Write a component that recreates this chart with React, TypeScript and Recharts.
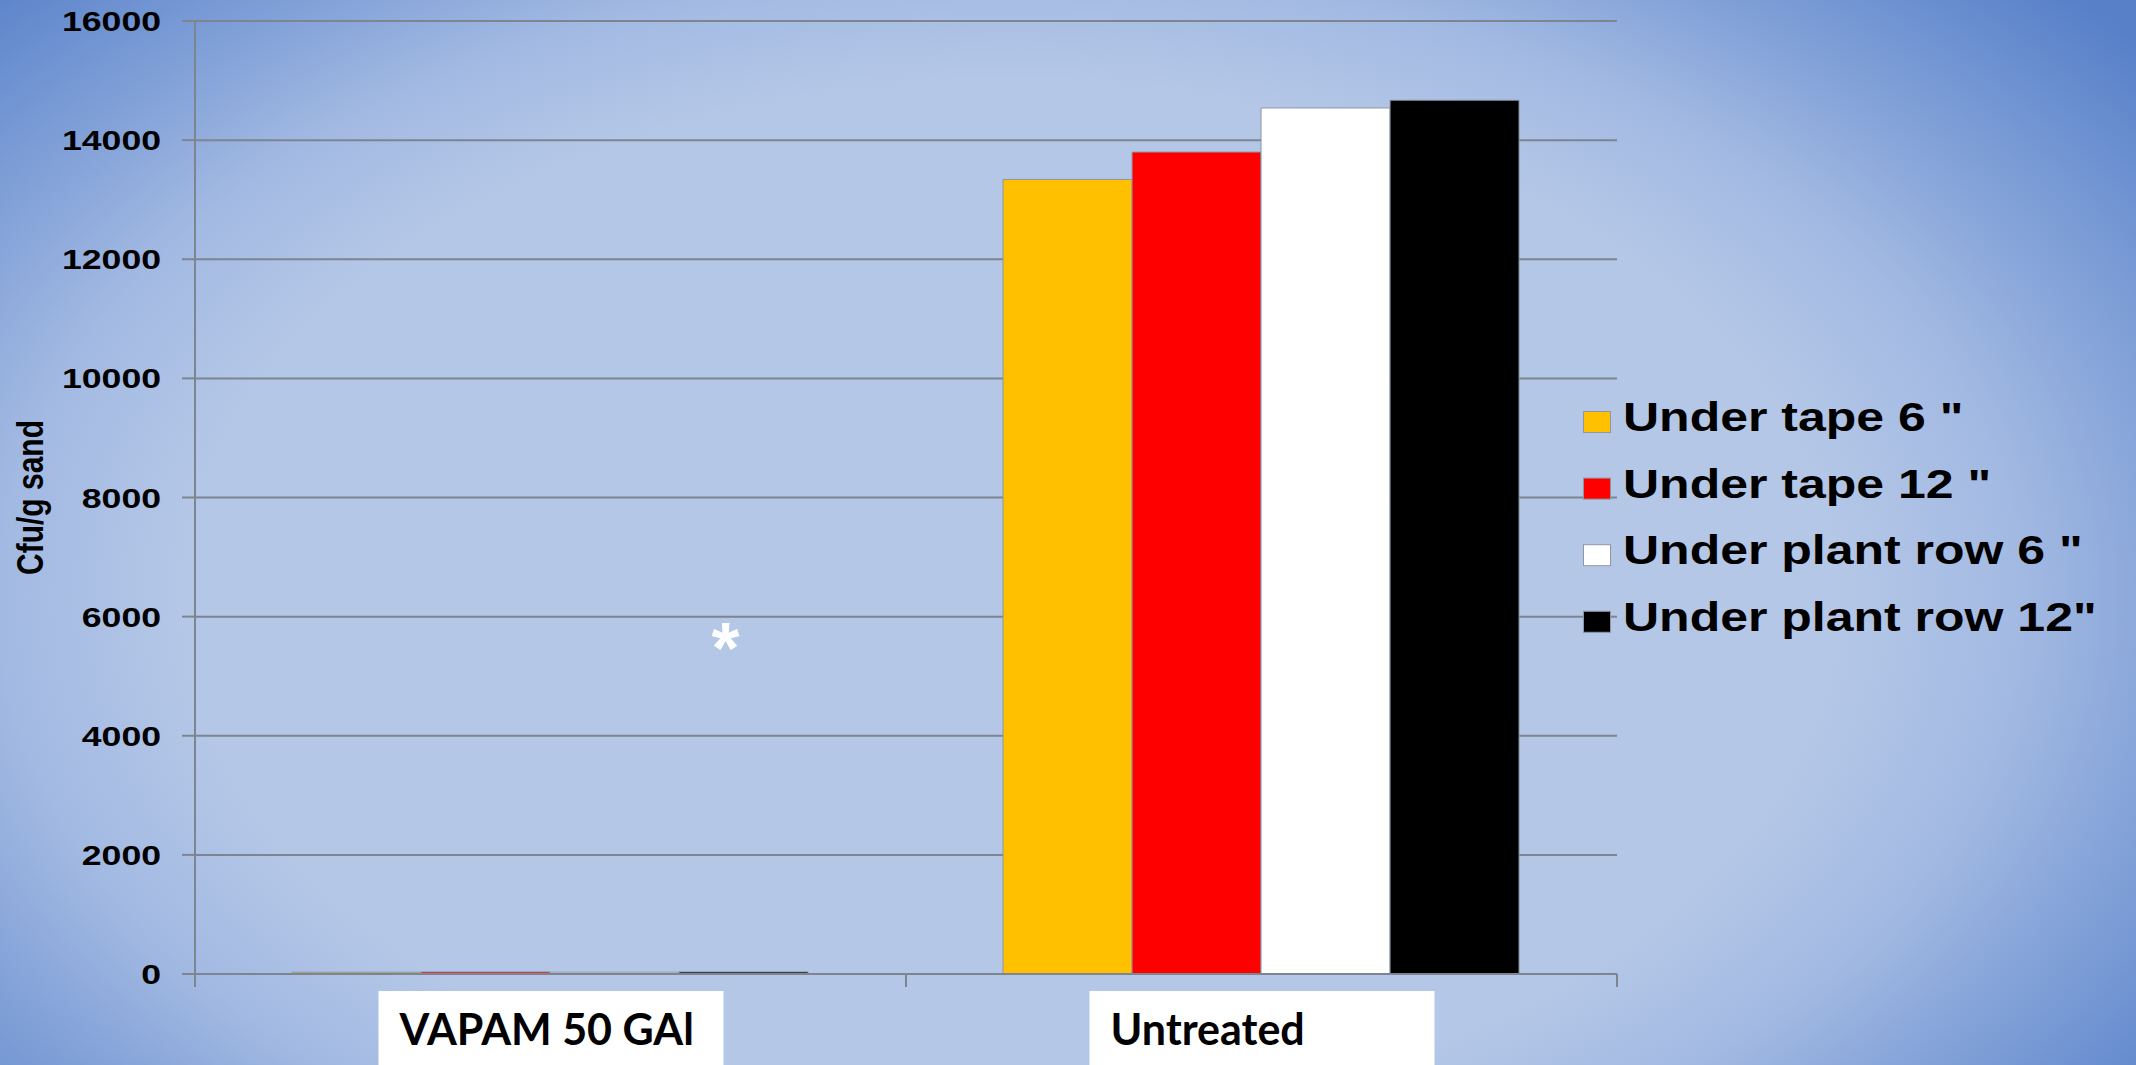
import React from 'react';
import { BarChart, Bar, XAxis, YAxis, CartesianGrid, Legend, ReferenceDot } from 'recharts';

const categories = ['VAPAM 50 GAl', 'Untreated'];
const underTape6 = [30, 13340];
const underTape12 = [35, 13800];
const underPlantRow6 = [30, 14540];
const underPlantRow12 = [35, 14670];
const seriesNames = ['Under tape 6 "', 'Under tape 12 "', 'Under plant row 6 "', 'Under plant row 12"'];
const seriesColors = ['#FFC000', '#FF0000', '#FFFFFF', '#000000'];
const yTicks = [0, 2000, 4000, 6000, 8000, 10000, 12000, 14000, 16000];
const yAxisTitle = 'Cfu/g sand';
const annotationText = '*';
const annotationValue = 5725;

const data = categories.map((c, i) => ({
  category: c,
  s0: underTape6[i],
  s1: underTape12[i],
  s2: underPlantRow6[i],
  s3: underPlantRow12[i],
}));

const W = 2136;
const H = 1065;
const GRID = '#7d8591';
const SANS = '"Liberation Sans", Arial, sans-serif';

const YTick = (props: any) => {
  const { x, y, payload } = props;
  return (
    <text
      transform={`translate(${x},${y + 10}) scale(1.25,1)`}
      textAnchor="end"
      fontFamily={SANS}
      fontWeight="bold"
      fontSize={28.5}
      fill="#000"
    >
      {payload.value}
    </text>
  );
};

const XTick = (props: any) => {
  const { x, y, payload } = props;
  const half =
    payload && typeof payload.offset === 'number' && payload.offset > 0
      ? payload.offset
      : props.width / (props.visibleTicksCount || 2) / 2;
  return (
    <g>
      <line x1={x - half} x2={x - half} y1={y} y2={y + 13} stroke={GRID} strokeWidth={2} />
      <line x1={x + half} x2={x + half} y1={y} y2={y + 13} stroke={GRID} strokeWidth={2} />
      <rect x={x - 172} y={y + 17} width={345} height={90} fill="#FFFFFF" />
      <text
        x={x - 151}
        y={y + 71}
        fontFamily="Lato, 'Open Sans', sans-serif"
        fontWeight="bold"
        fontSize={43}
        fill="#000"
      >
        {payload.value}
      </text>
    </g>
  );
};

const YLabel = (props: any) => {
  const vb = props.viewBox || { x: 0, y: 21, width: 195, height: 953 };
  const cx = vb.x + 30;
  const cy = vb.y + vb.height / 2;
  return (
    <text
      transform={`translate(${cx},${cy}) scale(1.25,1) rotate(-90)`}
      textAnchor="middle"
      dy="0.35em"
      fontFamily={SANS}
      fontWeight="bold"
      fontSize={30}
      fill="#000"
    >
      {yAxisTitle}
    </text>
  );
};

const LegendContent = (props: any) => {
  const payload = [...(props.payload || [])].sort(
    (a: any, b: any) => seriesNames.indexOf(a.value) - seriesNames.indexOf(b.value)
  );
  return (
    <svg width={560} height={280} style={{ display: 'block', overflow: 'visible' }}>
      {payload.map((e: any, i: number) => (
        <g key={i}>
          <rect
            x={0.5}
            y={16.5 + i * 66.6}
            width={27}
            height={21}
            fill={e.color}
            stroke="#8e96a3"
            strokeWidth={1}
          />
          <text
            transform={`translate(40,${36 + i * 66.6}) scale(1.25,1)`}
            fontFamily={SANS}
            fontWeight="bold"
            fontSize={40}
            fill="#000"
          >
            {e.value}
          </text>
        </g>
      ))}
    </svg>
  );
};

const Asterisk = (props: any) => {
  const { cx, cy } = props;
  if (cx == null || cy == null) return null;
  return (
    <text
      x={cx + 175}
      y={cy + 40}
      textAnchor="middle"
      fontFamily={SANS}
      fontWeight="bold"
      fontSize={72}
      fill="#FFFFFF"
    >
      {annotationText}
    </text>
  );
};

export default function App() {
  return (
    <div
      style={{
        position: 'absolute',
        left: 0,
        top: 0,
        width: W,
        height: H,
        overflow: 'hidden',
        background:
          'radial-gradient(1150px 720px at 1010px 600px, #b4c7e7 0%, #b4c7e7 72%, #a2b9e2 88%, #7f9fd7 104%, #5780c9 125%)',
      }}
    >
      <BarChart
        width={W}
        height={H}
        data={data}
        margin={{ top: 21, right: 519, bottom: 0, left: 0 }}
        barCategoryGap="13.65%"
        barGap={0}
      >
        <CartesianGrid vertical={false} stroke={GRID} strokeWidth={2} />
        <XAxis
          dataKey="category"
          height={91}
          tickLine={false}
          tickSize={0}
          tickMargin={0}
          axisLine={{ stroke: GRID, strokeWidth: 2 }}
          tick={<XTick />}
          interval={0}
        />
        <YAxis
          width={195}
          domain={[0, 16000]}
          ticks={yTicks}
          interval={0}
          tickSize={13}
          tickMargin={21}
          tickLine={{ stroke: GRID, strokeWidth: 2 }}
          axisLine={{ stroke: GRID, strokeWidth: 2 }}
          tick={<YTick />}
          label={{ content: <YLabel /> }}
        />
        <Legend
          layout="vertical"
          verticalAlign="middle"
          align="center"
          wrapperStyle={{ position: 'absolute', left: 1583, top: 395, width: 560, height: 280 }}
          content={<LegendContent />}
        />
        {['s0', 's1', 's2', 's3'].map((k, i) => (
          <Bar
            key={k}
            dataKey={k}
            name={seriesNames[i]}
            fill={seriesColors[i]}
            stroke="#8d97a6"
            strokeWidth={1}
            isAnimationActive={false}
          />
        ))}
        <ReferenceDot
          x={categories[0]}
          y={annotationValue}
          r={0}
          shape={<Asterisk />}
          ifOverflow="visible"
        />
      </BarChart>
    </div>
  );
}
